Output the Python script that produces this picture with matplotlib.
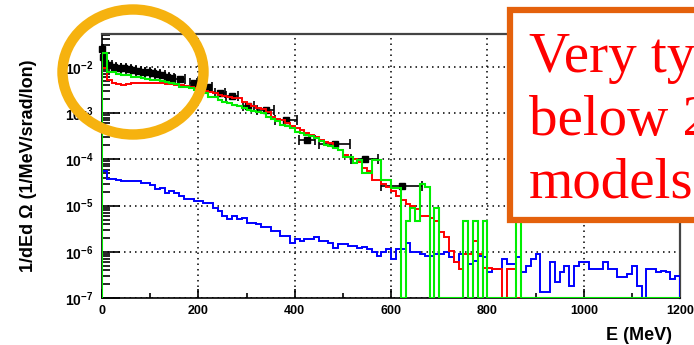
import numpy as np
import matplotlib
matplotlib.use('Agg')
import matplotlib.pyplot as plt
from matplotlib.patches import Ellipse, Rectangle
from matplotlib.ticker import LogLocator, MultipleLocator, NullFormatter

plt.rcParams['font.family'] = ['Liberation Sans', 'DejaVu Sans']
plt.rcParams['font.weight'] = 'bold'

# 10 MeV bins, values given as log10 of 1/dEdOmega; None = empty bin
edges = np.arange(0, 1201, 10)

blue_log = [
    -4.26, -4.42, -4.42, -4.44, -4.46, -4.46, -4.46, -4.47, -4.52, -4.52,
    -4.55, -4.65, -4.62, -4.72, -4.69, -4.72, -4.80, -4.85, -4.85, -4.90,
    -4.90, -4.94, -4.94, -5.05, -5.12, -5.23, -5.30, -5.23, -5.30, -5.26,
    -5.37, -5.37, -5.40, -5.47, -5.47, -5.55, -5.55, -5.66, -5.66, -5.80,
    -5.73, -5.76, -5.73, -5.73, -5.69, -5.76, -5.76, -5.80, -5.91, -5.83,
    -5.83, -5.87, -5.87, -5.91, -5.90, -5.94, -6.01, -6.09, -6.01, -5.94,
    -6.16, -5.94, -5.94, -5.81, -6.01, -6.01, -6.05, -6.09, -6.09, -6.05,
    -6.05, -6.01, -6.12, -6.23, -6.05, -6.05, -6.26, -6.20, -6.09, -6.12,
    -6.44, -6.37, -6.37, -6.16, -6.26, -6.26, -6.12, -6.44, -6.30, -6.16,
    -6.05, -6.87, -6.87, -6.23, -6.66, -6.44, -6.30, -6.73, -6.30, -6.23,
    -6.23, -6.37, -6.37, -6.37, -6.23, -6.37, -6.37, -6.55, -6.55, -6.48,
    -6.30, -6.73, None, -6.37, -6.37, -6.44, -6.41, -6.44, -6.59, -6.52,
]

red_log = [
    -2.03, -2.29, -2.34, -2.37, -2.39, -2.37, -2.36, -2.36, -2.36, -2.36,
    -2.36, -2.36, -2.36, -2.37, -2.38, -2.39, -2.40, -2.42, -2.43, -2.45,
    -2.50, -2.52, -2.55, -2.57, -2.61, -2.63, -2.65, -2.68, -2.68, -2.75,
    -2.80, -2.84, -2.90, -2.92, -2.97, -3.08, -3.12, -3.15, -3.22, -3.29,
    -3.33, -3.36, -3.43, -3.47, -3.51, -3.58, -3.62, -3.65, -3.75, -3.80,
    -3.90, -3.95, -4.00, -4.05, -4.19, -4.25, -4.44, -4.44, -4.54, -4.60,
    -4.69, -4.80, -4.87, -4.97, -5.00, -5.08, -5.23, -5.23, -5.26, -5.33,
    -5.58, -5.69, -5.98, -6.23, -6.37, -6.05, -6.05, -5.76, -6.05, -6.34,
    -6.34, -6.37, -6.37, None, -6.37, -6.37,
]

green_log = [
    -1.71, -2.11, -2.11, -2.16, -2.18, -2.18, -2.21, -2.21, -2.25, -2.27,
    -2.29, -2.29, -2.31, -2.32, -2.36, -2.38, -2.43, -2.44, -2.46, -2.50,
    -2.54, -2.57, -2.65, -2.65, -2.72, -2.76, -2.79, -2.82, -2.84, -2.90,
    -2.93, -2.95, -2.97, -3.00, -3.08, -3.12, -3.18, -3.25, -3.28, -3.32,
    -3.40, -3.43, -3.47, -3.50, -3.54, -3.61, -3.68, -3.72, -3.75, -3.79,
    -3.94, -3.94, -4.08, -4.01, -4.30, -4.30, -4.01, -4.01, -4.44, -4.44,
    -4.62, -4.62, None, -5.33, -5.05, -5.33, -4.54, -4.60, None, -5.05,
    None, None, None, None, None, -5.33, None, -5.33, None, -5.33,
    None, None, None, None, None, None, -5.33,
]

# measured points
data_E = [1, 3, 7, 15, 25, 35, 45, 55, 65, 75, 85, 95, 105, 115, 125, 135, 145,
          162, 190, 220, 245, 270, 304, 340, 382, 425, 483, 545, 622]
data_log = [-1.62, -1.78, -1.92, -1.97, -2.00, -2.02, -2.03, -2.05, -2.07, -2.09,
            -2.11, -2.12, -2.14, -2.16, -2.18, -2.22, -2.24, -2.27, -2.36, -2.44,
            -2.57, -2.63, -2.84, -2.93, -3.15, -3.58, -3.67, -4.00, -4.58]
data_dE = [1, 1, 2, 5, 5, 5, 5, 5, 5, 5, 5, 5, 5, 5, 5, 5, 5,
           10, 8, 8, 10, 12, 12, 18, 22, 17, 32, 28, 42]

ymin, ymax = 1e-7, 0.0509


def hist_values(logs):
    # empty bins sit on the lower frame, like ROOT draws them
    vals = np.full(len(edges) - 1, ymin)
    arr = 10.0 ** np.array(logs, dtype=float)
    vals[:len(arr)] = np.where(np.isnan(arr), ymin, arr)
    return vals


fig = plt.figure(figsize=(6.94, 3.45), dpi=100)
ax = fig.add_axes([0.147, 0.136, 0.833, 0.765])

ax.errorbar(data_E, 10.0 ** np.array(data_log), xerr=data_dE, fmt='s',
            color='black', ms=5, elinewidth=1.2, capsize=3.5, capthick=1.2,
            zorder=2, clip_on=False)
ax.stairs(hist_values(blue_log), edges, color='#0000ff', lw=1.4, zorder=3)
ax.stairs(hist_values(red_log), edges, color='#ff0000', lw=1.4, zorder=3)
ax.stairs(hist_values(green_log), edges, color='#00ee00', lw=1.5, zorder=4)

ax.set_yscale('log')
ax.set_xlim(0, 1200)
ax.set_ylim(ymin, ymax)
ax.xaxis.set_major_locator(MultipleLocator(200))
ax.xaxis.set_minor_locator(MultipleLocator(100))
ax.yaxis.set_major_locator(LogLocator(base=10, numticks=12))
ax.yaxis.set_minor_locator(LogLocator(base=10, subs=np.arange(2, 10), numticks=12))
ax.yaxis.set_minor_formatter(NullFormatter())

ax.grid(True, which='major', color='black', linestyle=(0, (1, 2.6)), linewidth=1.1)
ax.tick_params(axis='both', which='both', direction='in', top=False, right=False,
               width=1.2)
ax.tick_params(axis='y', which='major', length=13, pad=6, labelsize=10)
ax.tick_params(axis='y', which='minor', length=6)
ax.tick_params(axis='x', which='major', length=6.5, pad=5, labelsize=9)
ax.tick_params(axis='x', which='minor', length=3.6)

for side in ['left', 'bottom']:
    ax.spines[side].set_linewidth(1.2)
for side in ['top', 'right']:
    ax.spines[side].set_color('#444444')
    ax.spines[side].set_linewidth(1.6)

ax.set_ylabel('1/dEd Ω (1/MeV/srad/Ion)', fontsize=13, fontweight='bold')
ax.yaxis.set_label_coords(-0.112, 0.5)
ax.set_xlabel('E (MeV)', fontsize=13, fontweight='bold', loc='right')
ax.xaxis.set_label_coords(0.986, -0.11)

# highlight circle
fig.add_artist(Ellipse((133 / 694, 1 - 72 / 345), 141 / 694, 125 / 345,
                       transform=fig.transFigure, fill=False,
                       ec='#f6b20f', lw=7.5, zorder=10))

# comment box (runs off the right edge, as in the slide)
fig.add_artist(Rectangle((510 / 694, 1 - 220 / 345), 0.5, 210 / 345,
                         transform=fig.transFigure, fc='white',
                         ec='#e4610c', lw=4.5, zorder=10))
note_lines = ['Very typical', 'below 200 MeV', 'models']
for i, line in enumerate(note_lines):
    fig.text(529 / 694, 1 - (72 + 63 * i) / 345, line, va='baseline', ha='left',
             family='Liberation Serif', fontweight='normal', fontsize=41,
             color='#ff0000', zorder=11)

fig.savefig('out.png', dpi=100)
